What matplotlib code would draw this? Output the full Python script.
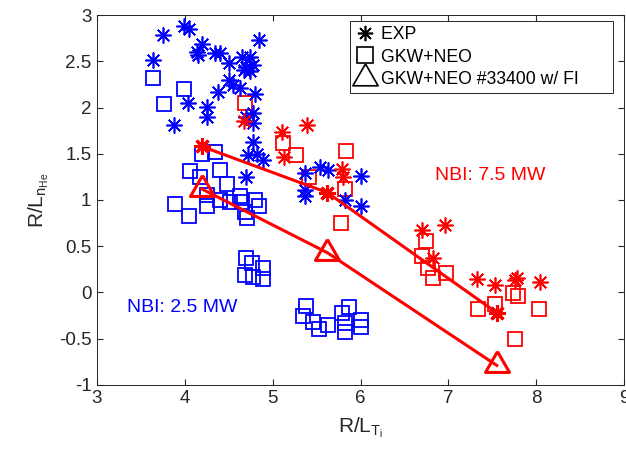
import numpy as np
import matplotlib
matplotlib.use('Agg')
import matplotlib.pyplot as plt
from matplotlib.lines import Line2D

plt.rcParams['font.family'] = ['Liberation Sans', 'DejaVu Sans']
plt.rcParams['mathtext.default'] = 'regular'

# EXP, NBI 2.5 MW (blue asterisks)
exp_lo_x = [3.75, 3.99, 4.05, 3.64, 4.19, 4.14, 4.15, 4.34, 4.40, 4.50, 4.65, 4.74, 4.84,
            4.70, 4.78, 4.74, 4.67, 4.50, 4.55, 4.38, 4.63, 4.80, 4.04, 4.25, 4.25, 3.88,
            4.70, 4.78, 4.78, 4.78, 4.72, 4.82, 4.89, 4.70,
            5.54, 5.63, 5.37, 6.00, 5.37, 5.37, 5.82, 6.01]
exp_lo_y = [2.78, 2.88, 2.85, 2.51, 2.69, 2.60, 2.57, 2.59, 2.59, 2.48, 2.55, 2.55, 2.73,
            2.44, 2.46, 2.39, 2.41, 2.30, 2.24, 2.17, 2.21, 2.15, 2.05, 2.01, 1.90, 1.81,
            1.90, 1.94, 1.83, 1.63, 1.49, 1.50, 1.43, 1.25,
            1.36, 1.32, 1.29, 1.26, 1.11, 1.04, 1.00, 0.93]

# EXP, NBI 7.5 MW (red asterisks)
exp_hi_x = [4.67, 5.13, 5.10, 5.39, 5.79, 5.80, 6.70, 6.96, 6.83, 7.33, 7.53, 7.78, 7.76, 8.04]
exp_hi_y = [1.85, 1.46, 1.74, 1.81, 1.34, 1.25, 0.68, 0.73, 0.37, 0.15, 0.08, 0.16, 0.13, 0.11]

# EXP #33400 (bold red asterisks joined by a line)
exp_33400_x = [4.19, 5.62, 7.55]
exp_33400_y = [1.58, 1.08, -0.22]

# GKW+NEO, NBI 2.5 MW (blue squares)
gkw_lo_x = [3.64, 3.99, 3.76, 4.34, 4.19, 4.06, 4.17, 4.40, 4.48, 4.25, 4.40, 3.89, 4.05,
            4.25, 4.51, 4.63, 4.65, 4.80, 4.84, 4.69, 4.71,
            4.70, 4.76, 4.89, 4.69, 4.78, 4.89,
            5.38, 5.35, 5.46, 5.53, 5.63, 5.79, 5.87, 6.00, 6.00, 5.82, 5.82]
gkw_lo_y = [2.32, 2.20, 2.04, 1.52, 1.50, 1.31, 1.25, 1.32, 1.17, 1.05, 1.00, 0.96, 0.83,
            0.93, 0.98, 1.04, 0.98, 1.00, 0.93, 0.87, 0.80,
            0.37, 0.32, 0.26, 0.19, 0.17, 0.14,
            -0.15, -0.26, -0.32, -0.40, -0.35, -0.22, -0.16, -0.30, -0.37, -0.33, -0.43]

# GKW+NEO, NBI 7.5 MW (red squares)
gkw_hi_x = [4.69, 5.12, 5.27, 5.83, 5.41, 5.82, 5.78, 6.75, 6.70, 6.77, 6.83, 6.97,
            7.34, 7.53, 7.74, 7.79, 8.03, 7.76]
gkw_hi_y = [2.05, 1.62, 1.49, 1.53, 1.25, 1.12, 0.755, 0.56, 0.39, 0.26, 0.16, 0.21,
            -0.18, -0.13, -0.01, -0.04, -0.18, -0.50]

# GKW+NEO #33400 with fast ions (triangles)
gkw_fi_x = [4.19, 5.62, 7.55]
gkw_fi_y = [1.12, 0.43, -0.79]

legend_labels = ['EXP', 'GKW+NEO', 'GKW+NEO #33400 w/ FI']

# asterisk with 8 arms, triangle centred on its centroid (as in MATLAB)
ast = (8, 2, 0)
tri = [(0, 2), (-np.sqrt(3), -1), (np.sqrt(3), -1), (0, 2)]

fig = plt.figure(figsize=(6.26, 4.57), dpi=100)
ax = fig.add_axes([0.155, 0.158, 0.842, 0.809])

ax.plot(gkw_lo_x, gkw_lo_y, ls='none', marker='s', ms=9.6, mfc='none', mec='b', mew=1.3)
ax.plot(gkw_hi_x, gkw_hi_y, ls='none', marker='s', ms=9.6, mfc='none', mec='r', mew=1.3)
ax.plot(exp_lo_x, exp_lo_y, ls='none', marker=ast, ms=11.5, mec='b', mew=1.2)
ax.plot(exp_hi_x, exp_hi_y, ls='none', marker=ast, ms=11.5, mec='r', mew=1.2)
ax.plot(exp_33400_x, exp_33400_y, color='r', lw=2.2, marker=ast, ms=12, mec='r', mew=2.2)
ax.plot(gkw_fi_x, gkw_fi_y, color='r', lw=2.2, marker=tri, ms=20, mfc='none', mec='r', mew=2.2)

ax.text(3.34, -0.16, 'NBI: 2.5 MW', color='b', fontsize=14, va='center')
ax.text(6.85, 1.26, 'NBI: 7.5 MW', color='r', fontsize=14, va='center')

ax.set_xlim(3, 9)
ax.set_ylim(-1, 3)
ax.set_xticks(range(3, 10))
ax.set_yticks(np.arange(-1, 3.01, 0.5))
ax.set_yticklabels(['-1', '-0.5', '0', '0.5', '1', '1.5', '2', '2.5', '3'])
ax.tick_params(direction='in', top=True, right=True, labelsize=13.5, colors='#262626',
               length=4, pad=4)
for s in ax.spines.values():
    s.set_color('#262626')
    s.set_linewidth(0.7)

ax.set_xlabel('R/L$_{T_i}$', fontsize=15, color='#262626', labelpad=6)
ax.set_ylabel('R/L$_{n_{He}}$', fontsize=15, color='#262626', labelpad=6)

handles = [Line2D([], [], ls='none', marker=ast, ms=11, mec='k', mew=1.2),
           Line2D([], [], ls='none', marker='s', ms=12, mfc='none', mec='k', mew=1.2),
           Line2D([], [], ls='none', marker=tri, ms=21, mfc='none', mec='k', mew=1.2)]
# MATLAB leaves extra room on the right of the legend text
labels_padded = [lab + ' ' * 6 for lab in legend_labels]
leg = ax.legend(handles, labels_padded, loc='upper right',
                bbox_to_anchor=(0.979, 0.984), borderaxespad=0, fontsize=12.7,
                fancybox=False, framealpha=1, edgecolor='#262626', handlelength=1.1,
                handletextpad=0.35, labelspacing=0.3, borderpad=0.3)
leg.get_frame().set_linewidth(0.7)

fig.savefig('out.png', dpi=100)
